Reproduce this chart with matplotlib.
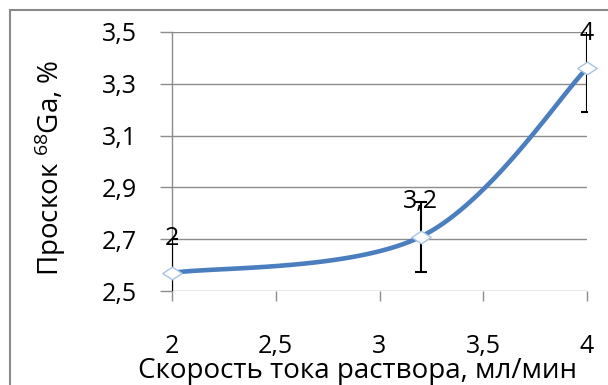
import numpy as np
import matplotlib
matplotlib.use("Agg")
import matplotlib.pyplot as plt
from matplotlib.patches import Rectangle
from matplotlib.path import Path

flow_rate = [2.0, 3.2, 4.0]
breakthrough = [2.57, 2.71, 3.36]
errors = [0.13, 0.135, 0.17]
point_labels = ["2", "3,2", "4"]
x_ticks = [2, 2.5, 3, 3.5, 4]
x_tick_labels = ["2", "2,5", "3", "3,5", "4"]
y_ticks = [2.5, 2.7, 2.9, 3.1, 3.3, 3.5]
y_tick_labels = ["2,5", "2,7", "2,9", "3,1", "3,3", "3,5"]

FONT = ["Open Sans", "DejaVu Sans"]
plt.rcParams["font.family"] = FONT
plt.rcParams["mathtext.fontset"] = "custom"
plt.rcParams["mathtext.rm"] = "Open Sans"
plt.rcParams["mathtext.it"] = "Open Sans"

GRID = "#8c8c8c"
LINE = "#4a7ebf"


def smooth_curve(ax, xs, ys, n=60):
    # Bezier smoothing through the points, done in display space
    pts = ax.transData.transform(np.column_stack([xs, ys]))
    ext = np.vstack([pts[0], pts, pts[-1]])
    out = []
    for i in range(len(pts) - 1):
        p0, p1 = ext[i + 1], ext[i + 2]
        c1 = p0 + (ext[i + 2] - ext[i]) / 6.0
        c2 = p1 - (ext[i + 3] - ext[i + 1]) / 6.0
        t = np.linspace(0, 1, n)[:, None]
        seg = ((1 - t) ** 3) * p0 + 3 * ((1 - t) ** 2) * t * c1 + 3 * (1 - t) * t ** 2 * c2 + t ** 3 * p1
        out.append(seg if i == 0 else seg[1:])
    curve = ax.transData.inverted().transform(np.vstack(out))
    return curve[:, 0], curve[:, 1]


fig = plt.figure(figsize=(6.08, 3.85), dpi=100)
ax = fig.add_axes([172 / 608, 94 / 385, 415 / 608, 259 / 385])
ax.set_xlim(2, 4)
ax.set_ylim(2.5, 3.5)

for s in ["top", "right", "bottom"]:
    ax.spines[s].set_visible(False)
ax.spines["left"].set_color(GRID)
ax.spines["left"].set_linewidth(1.0)

ax.set_yticks(y_ticks)
ax.set_yticklabels(y_tick_labels)
ax.set_xticks(x_ticks)
ax.set_xticklabels(x_tick_labels)
ax.tick_params(axis="y", direction="out", length=9, width=1.0, color=GRID,
               labelsize=18, pad=16)
ax.tick_params(axis="x", direction="out", length=7, width=1.0, color=GRID,
               labelsize=18, pad=24)
ax.yaxis.grid(True, color=GRID, linewidth=1.0)
ax.set_axisbelow(True)

sx, sy = smooth_curve(ax, flow_rate, breakthrough)
ax.plot(sx, sy, color=LINE, linewidth=3.3, solid_capstyle="round", zorder=3)

ax.errorbar(flow_rate, breakthrough, yerr=errors, fmt="none", ecolor="black",
            elinewidth=1.5, capsize=4, capthick=1.5, zorder=4)

diamond = Path([(-1, 0), (0, 0.65), (1, 0), (0, -0.65), (-1, 0)],
               [Path.MOVETO, Path.LINETO, Path.LINETO, Path.LINETO, Path.CLOSEPOLY])
ax.plot(flow_rate, breakthrough, linestyle="none", marker=diamond, markersize=14,
        markerfacecolor="white", markeredgecolor="#a6c2e4", markeredgewidth=1.0,
        zorder=5, clip_on=False)

for x, y, lab in zip(flow_rate, breakthrough, point_labels):
    ax.annotate(lab, (x, y), xytext=(0, 25), textcoords="offset points",
                ha="center", va="center", fontsize=18, zorder=6, annotation_clip=False)

fig.text(357 / 608, 7 / 385, "Скорость тока раствора, мл/мин",
         ha="center", va="baseline", fontsize=20)
fig.text(50 / 608, 1 - 168 / 385, "Проскок $^{68}$Ga, %", rotation=90,
         ha="center", va="center", fontsize=20)

fig.add_artist(Rectangle((10 / 608, -0.2), 1.2, 1.2 - 10 / 385,
                         transform=fig.transFigure, fill=False,
                         edgecolor="#8a8a8a", linewidth=1.5, clip_on=False))

fig.savefig("out.png", dpi=100)
